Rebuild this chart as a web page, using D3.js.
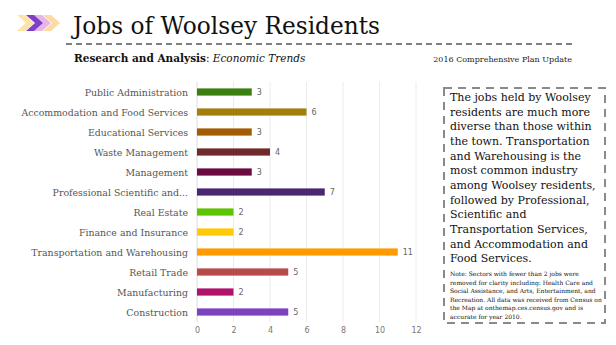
<!DOCTYPE html>
<html><head><meta charset="utf-8">
<script src="https://cdn.jsdelivr.net/npm/d3@7"></script>
<style>
html,body{margin:0;padding:0;background:#fff;}
svg{display:block;}
</style></head>
<body>
<svg id="c" width="616" height="345"></svg>
<script>
const categories = ["Public Administration","Accommodation and Food Services","Educational Services","Waste Management","Management","Professional Scientific and...","Real Estate","Finance and Insurance","Transportation and Warehousing","Retail Trade","Manufacturing","Construction"];
const values = [3,6,3,4,3,7,2,2,11,5,2,5];
const barColors = ["#3b7f10","#a37e0b","#a35c02","#6f2b2b","#6b0b42","#4b2672","#5cc400","#ffc906","#ff9a00","#b84a4a","#b1126c","#7c42c0"];
const xTicks = [0,2,4,6,8,10,12];
const title = "Jobs of Woolsey Residents";
const subtitleBold = "Research and Analysis";
const subtitleItalic = "Economic Trends";
const rightSub = "2016 Comprehensive Plan Update";
const boxLines = ["The jobs held by Woolsey","residents are much more","diverse than those within","the town. Transportation","and Warehousing is the","most common industry","among Woolsey residents,","followed by Professional,","Scientific and","Transportation Services,","and Accommodation and","Food Services."];
const noteLines = ["Note: Sectors with fewer than 2 jobs were","removed for clarity including: Health Care and","Social Assistance, and Arts, Entertainment, and","Recreation. All data was received from Census on","the Map at onthemap.ces.census.gov and is","accurate for year 2010."];

const svg = d3.select("#c");
const serif = "'DejaVu Serif', serif";

// chevrons
const chev = [{x:17,c:"#fde3a6"},{x:26,c:"#7d3fc6"},{x:34,c:"#e6b6e6"},{x:43,c:"#fdd9a4"}];
const chevPath = (x)=>`M${x},15 L${x+8},15 L${x+17},23 L${x+8},31 L${x},31 L${x+9},23 Z`;
svg.selectAll("path.chev").data([chev[0],chev[3],chev[2],chev[1]]).join("path")
  .attr("d",d=>chevPath(d.x)).attr("fill",d=>d.c);

svg.append("text").attr("x",73).attr("y",34).attr("font-family",serif)
  .attr("font-size",25).attr("fill","#111").attr("textLength",307).attr("lengthAdjust","spacingAndGlyphs").text(title);

svg.append("line").attr("x1",66).attr("x2",574).attr("y1",44).attr("y2",44)
  .attr("stroke","#555").attr("stroke-width",1.3).attr("stroke-dasharray","6,4");

const st = svg.append("text").attr("x",74).attr("y",62).attr("font-family",serif).attr("font-size",10.5).attr("fill","#111");
st.append("tspan").attr("font-weight","bold").text(subtitleBold);
st.append("tspan").text(": ");
st.append("tspan").attr("font-style","italic").text(subtitleItalic);

svg.append("text").attr("x",572).attr("y",62).attr("text-anchor","end").attr("font-family",serif)
  .attr("font-size",8).attr("fill","#222").text(rightSub);

// chart
const x = d3.scaleLinear().domain([0,12]).range([197,416]);
const y = d3.scaleBand().domain(categories).range([82,322]).paddingInner(0.64).paddingOuter(0.32);

const g = svg.append("g");
g.selectAll("line.grid").data(xTicks).join("line")
  .attr("x1",d=>x(d)).attr("x2",d=>x(d)).attr("y1",82).attr("y2",322)
  .attr("stroke",d=>d===0?"#dcdcdc":"#ececec").attr("stroke-width",1);

g.selectAll("rect.bar").data(values).join("rect")
  .attr("x",x(0)).attr("y",(d,i)=>y(categories[i]))
  .attr("width",d=>x(d)-x(0)).attr("height",y.bandwidth())
  .attr("fill",(d,i)=>barColors[i]);

g.selectAll("text.val").data(values).join("text")
  .attr("x",d=>x(d)+5).attr("y",(d,i)=>y(categories[i])+y.bandwidth()/2+3)
  .attr("font-family","'DejaVu Sans', sans-serif").attr("font-size",8).attr("fill","#666").text(d=>d);

g.selectAll("text.cat").data(categories).join("text")
  .attr("x",188).attr("y",d=>y(d)+y.bandwidth()/2+3.5)
  .attr("text-anchor","end").attr("font-family",serif).attr("font-size",9.4).attr("fill","#555").text(d=>d);

const xAxis = d3.axisBottom(x).tickValues(xTicks).tickSize(0).tickPadding(0);
const ax = svg.append("g").attr("transform","translate(0,327)").call(xAxis);
ax.select(".domain").remove();
ax.selectAll("text").attr("font-family","'DejaVu Sans', sans-serif").attr("font-size",8).attr("fill","#777");

// text box
svg.append("rect").attr("x",444).attr("y",88).attr("width",161).attr("height",235)
  .attr("fill","none").attr("stroke","#8a8a8a").attr("stroke-width",2).attr("stroke-dasharray","8,6");

svg.append("g").selectAll("text").data(boxLines).join("text")
  .attr("x",450).attr("y",(d,i)=>101+i*14.65).attr("font-family",serif)
  .attr("font-size",11).attr("fill","#111").text(d=>d);

svg.append("g").selectAll("text").data(noteLines).join("text")
  .attr("x",450).attr("y",(d,i)=>276+i*8.5).attr("font-family",serif)
  .attr("font-size",6).attr("fill","#111").text(d=>d);
</script>
</body></html>
